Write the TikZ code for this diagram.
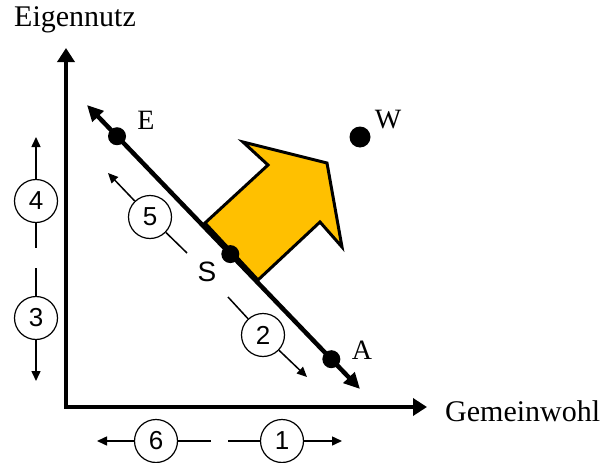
\documentclass[tikz,border=0pt]{standalone}
\usepackage{fontspec}
\setmainfont{Liberation Serif}
\newfontfamily\arialfont{Liberation Sans}
\usetikzlibrary{arrows.meta}
\begin{document}
\begin{tikzpicture}[x=1pt, y=-1pt,
  every node/.style={inner sep=0pt},
  axis/.style={line width=4.5pt, -{Triangle[length=14pt,width=17pt]}},
  axlabel/.style={font=\fontsize{30}{32}\selectfont},
  ptlabel/.style={font=\fontsize{28}{30}\selectfont},
  dot/.style={circle, fill=black, minimum size=18pt},
  num/.style={circle, draw=black, line width=1.2pt, fill=white, minimum size=43pt,
    font=\arialfont\fontsize{26}{26}\selectfont},
  thin/.style={line width=1.5pt},
  thinarr/.style={line width=1.5pt, -{Triangle[length=10pt,width=9pt]}},
  bigarrow/.style={draw=black, line width=3pt, fill={rgb,255:red,255;green,192;blue,0}, line join=miter}
]
\useasboundingbox (0,0) rectangle (603,463);

\coordinate (origin) at (66,407);
\coordinate (ytip) at (66,48);
\coordinate (xtip) at (427,407);
\draw[axis] (origin) -- (ytip);
\draw[axis, line cap=rect] (ytip |- origin) -- (xtip);
\node[axlabel] (ylab) at (75,20) {Eigennutz};
\node[axlabel, anchor=west] (xlab) at (445,411) {Gemeinwohl};

\draw[bigarrow] (205,223) -- (268,165) -- (243,142) -- (327,163) -- (342,247)
  -- (320,222) -- (258,280) -- cycle;

\coordinate (dtop) at (87,105);
\coordinate (dbot) at (360,389);
\draw[line width=4.5pt, {Triangle[length=16pt,width=15pt]}-{Triangle[length=16pt,width=15pt]}] (dtop) -- (dbot);
\path (dtop) -- (dbot)
  node[dot, pos=0.11] (E) {}
  node[dot, pos=0.525] (S) {}
  node[dot, pos=0.895] (A) {};
\node[dot, minimum size=21pt] (W) at (360,137) {};
\node[ptlabel] (Elab) at (146,120) {E};
\node[ptlabel] (Wlab) at (388,120) {W};
\node[ptlabel] (Alab) at (362,350) {A};
\node[font=\arialfont\fontsize{28}{28}\selectfont] (Slab) at (207,272) {S};

\node[num] (n4) at (36,201) {4};
\node[num] (n3) at (36,318) {3};
\coordinate (n4top) at (36,137);
\coordinate (n4end) at (36,248);
\coordinate (n3beg) at (36,268);
\coordinate (n3bot) at (36,381);
\draw[thinarr] (n4) -- (n4top);
\draw[thin] (n4) -- (n4end);
\draw[thin] (n3beg) -- (n3);
\draw[thinarr] (n3) -- (n3bot);

\node[num] (n6) at (156,441) {6};
\node[num] (n1) at (282,441) {1};
\coordinate (n6left) at (97,441);
\coordinate (n6end) at (211,441);
\coordinate (n1beg) at (228,441);
\coordinate (n1right) at (342,441);
\draw[thinarr] (n6) -- (n6left);
\draw[thin] (n6) -- (n6end);
\draw[thin] (n1beg) -- (n1);
\draw[thinarr] (n1) -- (n1right);

\node[num] (n5) at (150,217) {5};
\node[num] (n2) at (263,335) {2};
\coordinate (n5tip) at (108,173);
\coordinate (n5end) at (187,253);
\coordinate (n2beg) at (228,297);
\coordinate (n2tip) at (307,377);
\draw[thinarr] (n5) -- (n5tip);
\draw[thin] (n5) -- (n5end);
\draw[thin] (n2beg) -- (n2);
\draw[thinarr] (n2) -- (n2tip);
\end{tikzpicture}
\end{document}
